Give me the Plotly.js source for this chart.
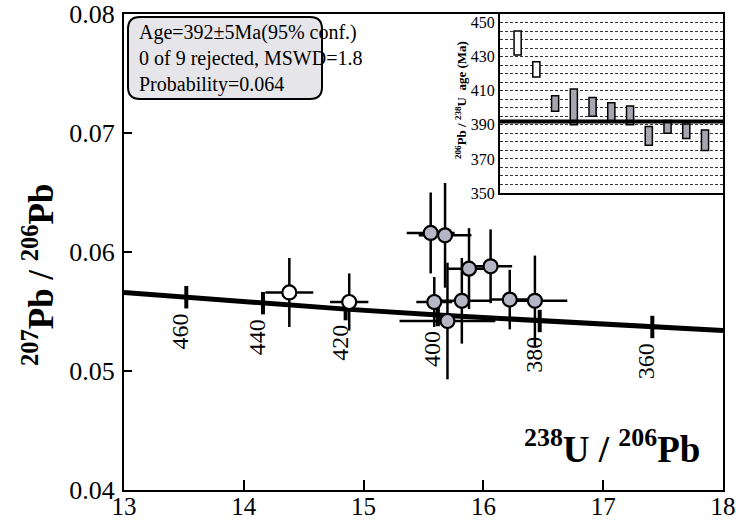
<!DOCTYPE html>
<html>
<head>
<meta charset="utf-8">
<script src="https://cdn.plot.ly/plotly-3.0.1.min.js"></script>
<style>html,body{margin:0;padding:0;background:#fff;}#chart{width:736px;height:521px;}</style>
</head>
<body>
<div id="chart"></div>
<script>
// ---- Concordia curve ----
const concordiaX = [13.0, 13.52, 14.16, 14.85, 15.62, 16.47, 17.41, 18.0];
const concordiaY = [0.0566, 0.0562, 0.0557, 0.0552, 0.0547, 0.0542, 0.0537, 0.0534];
// age ticks on the concordia
const ageTickX = [13.52, 14.16, 14.85, 15.62, 16.47, 17.41];
const ageTickY = [0.0562, 0.0557, 0.0552, 0.0547, 0.0542, 0.0537];
const ageTickLabels = ['460', '440', '420', '400', '380', '360'];

// ---- Analyses not used (open circles) ----
const openX = [14.38, 14.88];
const openY = [0.0566, 0.0558];
const openXerr = [0.20, 0.16];
const openYerr = [0.0029, 0.0024];

// ---- Analyses used in the age (grey circles) ----
const grayX = [15.56, 15.68, 15.88, 16.06, 15.59, 15.82, 15.70, 16.22, 16.43];
const grayY = [0.0616, 0.0614, 0.0586, 0.0588, 0.0558, 0.0559, 0.0542, 0.0560, 0.0559];
const grayXerr = [0.20, 0.22, 0.18, 0.18, 0.15, 0.25, 0.40, 0.15, 0.27];
const grayYerr = [0.0034, 0.0044, 0.0034, 0.0031, 0.0021, 0.0036, 0.0049, 0.0025, 0.0038];

// ---- Inset: 206Pb/238U ages (Ma) ----
const insetIndexOpen = [1, 2];
const insetLowOpen = [431, 418];
const insetHighOpen = [445, 427];
const insetIndexGray = [3, 4, 5, 6, 7, 8, 9, 10, 11];
const insetLowGray = [398, 390, 395, 391.5, 390, 378, 385, 382, 375];
const insetHighGray = [407, 411, 406, 403, 401, 389, 392.5, 390.5, 387];
const meanAge = 392;

// ---- Texts ----
const xTicks = [13, 14, 15, 16, 17, 18];
const yTicks = [0.04, 0.05, 0.06, 0.07, 0.08];
const insetTicks = [350, 370, 390, 410, 430, 450];
const statsLines = ['Age=392±5Ma(95% conf.)', '0 of 9 rejected, MSWD=1.8', 'Probability=0.064'];

const SERIF = 'Liberation Serif, Times New Roman, serif';

// plot area pixel geometry
const L = 124, R = 13, T = 14, B = 31, W = 736, H = 521;
const PW = W - L - R, PH = H - T - B;
const px = x => (x - L) / PW;            // pixel -> paper x
const py = y => (H - B - y) / PH;        // pixel -> paper y

const traces = [];
traces.push({
  x: concordiaX, y: concordiaY, mode: 'lines', type: 'scatter',
  line: {color: '#000', width: 5}, hoverinfo: 'skip'
});
traces.push({
  x: ageTickX, y: ageTickY, mode: 'markers', type: 'scatter',
  marker: {symbol: 'line-ns', size: 16, line: {color: '#000', width: 4}}, hoverinfo: 'skip'
});
traces.push({
  x: openX, y: openY, mode: 'markers', type: 'scatter',
  error_x: {type: 'data', array: openXerr, visible: true, color: '#000', thickness: 2.5, width: 0},
  error_y: {type: 'data', array: openYerr, visible: true, color: '#000', thickness: 2.5, width: 0},
  marker: {size: 14, color: '#ffffff', line: {color: '#000', width: 2.2}}
});
traces.push({
  x: grayX, y: grayY, mode: 'markers', type: 'scatter',
  error_x: {type: 'data', array: grayXerr, visible: true, color: '#000', thickness: 2.5, width: 0},
  error_y: {type: 'data', array: grayYerr, visible: true, color: '#000', thickness: 2.5, width: 0},
  marker: {size: 14, color: '#b6b6c6', line: {color: '#000', width: 2.2}}
});
// inset bars
traces.push({
  type: 'bar', x: insetIndexOpen, base: insetLowOpen,
  y: insetHighOpen.map((h, i) => h - insetLowOpen[i]),
  width: 0.38, marker: {color: '#ffffff', line: {color: '#000', width: 1.5}},
  xaxis: 'x2', yaxis: 'y2', hoverinfo: 'skip'
});
traces.push({
  type: 'bar', x: insetIndexGray, base: insetLowGray,
  y: insetHighGray.map((h, i) => h - insetLowGray[i]),
  width: 0.38, marker: {color: '#a6a6b0', line: {color: '#000', width: 1.5}},
  xaxis: 'x2', yaxis: 'y2', hoverinfo: 'skip'
});

const annotations = [];
ageTickLabels.forEach((t, i) => {
  annotations.push({
    x: ageTickX[i], y: ageTickY[i], xref: 'x', yref: 'y', text: t, showarrow: false,
    textangle: -90, font: {family: SERIF, size: 24, color: '#000'},
    xanchor: 'center', yanchor: 'top', yshift: -14, xshift: -6
  });
});
annotations.push({
  xref: 'paper', yref: 'paper', x: px(137), y: py(19), xanchor: 'left', yanchor: 'top',
  text: statsLines.join('<br>'), align: 'left', showarrow: false,
  font: {family: SERIF, size: 20, color: '#000'}
});
annotations.push({
  xref: 'paper', yref: 'paper', x: px(38), y: py(275), xanchor: 'center', yanchor: 'middle',
  text: '<sup>207</sup>Pb / <sup>206</sup>Pb', textangle: -90, showarrow: false,
  font: {family: SERIF, size: 35, color: '#000', weight: 'bold'}
});
annotations.push({
  xref: 'paper', yref: 'paper', x: px(702), y: py(446), xanchor: 'right', yanchor: 'middle',
  text: '<sup>238</sup>U / <sup>206</sup>Pb', showarrow: false,
  font: {family: SERIF, size: 37, color: '#000', weight: 'bold'}
});
annotations.push({
  xref: 'paper', yref: 'paper', x: px(461), y: py(100), xanchor: 'center', yanchor: 'middle',
  text: '<sup>206</sup>Pb / <sup>238</sup>U  age (Ma)', textangle: -90, showarrow: false,
  font: {family: SERIF, size: 13, color: '#000', weight: 'bold'}
});

// rounded stats box
const bx0 = px(128), bx1 = px(322), by0 = py(99), by1 = py(17);
const rx = 12 / PW, ry = 12 / PH;
const boxPath = `M ${bx0 + rx} ${by1} L ${bx1 - rx} ${by1} Q ${bx1} ${by1} ${bx1} ${by1 - ry} ` +
  `L ${bx1} ${by0 + ry} Q ${bx1} ${by0} ${bx1 - rx} ${by0} L ${bx0 + rx} ${by0} ` +
  `Q ${bx0} ${by0} ${bx0} ${by0 + ry} L ${bx0} ${by1 - ry} Q ${bx0} ${by1} ${bx0 + rx} ${by1} Z`;

const shapes = [
  {type: 'path', xref: 'paper', yref: 'paper', path: boxPath,
   fillcolor: '#e6e6ea', line: {color: '#000', width: 2}, layer: 'above'},
  {type: 'line', xref: 'x2 domain', yref: 'y2', x0: 0, x1: 1, y0: meanAge, y1: meanAge,
   line: {color: '#000', width: 4}, layer: 'above'}
];

const layout = {
  width: W, height: H,
  margin: {l: L, r: R, t: T, b: B, pad: 0},
  paper_bgcolor: '#fff', plot_bgcolor: '#fff',
  showlegend: false, barmode: 'overlay',
  font: {family: SERIF, color: '#000'},
  xaxis: {
    range: [13, 18], tickvals: xTicks, ticks: 'inside', ticklen: 10, tickwidth: 2, tickcolor: '#000',
    showline: true, linewidth: 2, linecolor: '#000', mirror: true, showgrid: false, zeroline: false,
    tickfont: {family: SERIF, size: 25}, ticklabelstandoff: -7, ticklabeloverflow: 'allow', fixedrange: true
  },
  yaxis: {
    range: [0.04, 0.08], tickvals: yTicks, tickformat: '.2f', ticks: 'inside', ticklen: 8, tickwidth: 2, tickcolor: '#000',
    showline: true, linewidth: 2, linecolor: '#000', mirror: true, showgrid: false, zeroline: false,
    tickfont: {family: SERIF, size: 26}, ticklabelstandoff: 2, ticklabeloverflow: 'allow', fixedrange: true
  },
  xaxis2: {
    domain: [px(500), 1], anchor: 'y2', range: [0.06, 11.96], showticklabels: false, ticks: '',
    showline: true, linewidth: 2, linecolor: '#000', mirror: true, showgrid: false, zeroline: false
  },
  yaxis2: {
    domain: [py(193), 1], anchor: 'x2', range: [350, 455], tickvals: insetTicks, ticks: '',
    showline: true, linewidth: 2, linecolor: '#000', mirror: true, zeroline: false,
    showgrid: true, gridcolor: '#333', gridwidth: 1, griddash: '3px,2px',
    minor: {dtick: 5, showgrid: true, gridcolor: '#333', gridwidth: 1, griddash: '3px,2px'},
    tickfont: {family: SERIF, size: 16}, ticklabeloverflow: 'allow'
  },
  annotations: annotations,
  shapes: shapes
};

Plotly.newPlot('chart', traces, layout, {displayModeBar: false, staticPlot: true});
</script>
</body>
</html>
